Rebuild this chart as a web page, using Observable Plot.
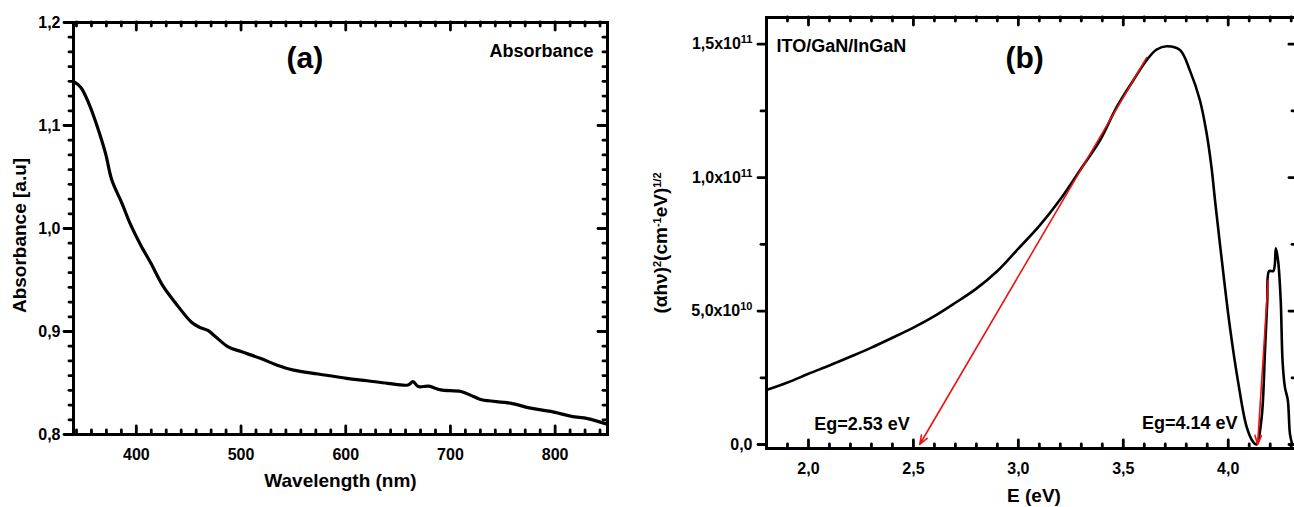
<!DOCTYPE html>
<html><head><meta charset="utf-8">
<script src="https://cdn.jsdelivr.net/npm/d3@7"></script>
<script src="https://cdn.jsdelivr.net/npm/@observablehq/plot@0.6"></script>
<style>
html,body{margin:0;padding:0;background:#fff;overflow:hidden;}
#wrap{position:relative;width:1294px;height:507px;overflow:hidden;background:#fff;}
#a{position:absolute;left:0;top:0;width:640px;height:507px;}
#b{position:absolute;left:640px;top:0;width:660px;height:507px;}
</style></head><body>
<div id="wrap"><div id="a"></div><div id="b"></div></div>
<script>
// ---- Panel (a): absorbance spectrum ----
const wavelength = [339.5,347,355,363,370.7,376.6,386.3,394,404,413.7,425.4,437,452.7,460.5,468.3,476,487.8,500,519,534.6,550.2,573.7,601,620.5,640,659.5,664.2,669.3,679,690.7,710,722,729.8,757,776.6,796,815.6,831,848.8];
const absorbance = [1.143,1.137,1.1205,1.098,1.0724,1.047,1.0244,1.005,0.9843,0.9667,0.9442,0.9282,0.909,0.904,0.901,0.8946,0.885,0.8805,0.8737,0.8673,0.8625,0.8587,0.8545,0.8522,0.8497,0.8481,0.8513,0.8465,0.847,0.8433,0.8417,0.8369,0.8337,0.8305,0.8256,0.8224,0.8176,0.8154,0.8103];
const xTicksA = [400,500,600,700,800];
const yTicksA = [0.8,0.9,1.0,1.1,1.2];

// ---- Panel (b): Tauc plot ----
const energy = [1.80,1.90,2.00,2.10,2.20,2.30,2.40,2.50,2.60,2.70,2.80,2.90,3.00,3.10,3.20,3.30,3.389,3.469,3.548,3.611,3.659,3.707,3.77,3.818,3.865,3.897,3.92,3.937,3.968,4.008,4.048,4.088,4.119,4.135,4.159,4.175,4.186,4.195,4.215,4.227,4.238,4.25,4.259,4.27,4.284,4.294,4.305];
const tauc = [2.04e10,2.32e10,2.65e10,2.96e10,3.29e10,3.63e10,4.0e10,4.38e10,4.81e10,5.31e10,5.84e10,6.5e10,7.34e10,8.19e10,9.19e10,1.035e11,1.14e11,1.265e11,1.365e11,1.44e11,1.48e11,1.4925e11,1.478e11,1.40e11,1.29e11,1.166e11,1.04e11,9.15e10,7.0e10,4.4e10,2.3e10,6.5e9,9e8,0,1.0e10,3.5e10,5.4e10,6.5e10,6.5e10,7.35e10,6.85e10,5.4e10,3.1e10,2.15e10,1.65e10,4e9,0];
const fitFromE = [3.611,4.19];
const fitFromV = [1.45e11,6.15e10];
const fitToE = [2.53,4.14];
const fitToV = [0,0];
const gapLabels = ["Eg=2.53 eV","Eg=4.14 eV"];
const gapLabelE = [2.255,3.817];
const gapLabelV = [7.5e9,7.9e9];
const xTicksB = [2.0,2.5,3.0,3.5,4.0];
const yTicksB = [0,5e10,1e11,1.5e11];
const yTickMantissaB = ["0,0","5,0x10","1,0x10","1,5x10"];
const yTickExponentB = ["","10","11","11"];

const FONT = '"Liberation Sans", Arial, Helvetica, sans-serif';
const comma = d => d3.format(".1f")(d).replace(".", ",");

// frame tick marks; lengths given in pixels, converted through the scale spans
function tickMarks(xs, ys, xd, yd, o) {
  const [xMaj, xMin] = xs, [yMaj, yMin] = ys;
  const ky = (yd[1] - yd[0]) / o.plotH, kx = (xd[1] - xd[0]) / o.plotW;
  const st = {stroke: "black", strokeWidth: 2.8, strokeLinecap: "round"};
  const bx = (vals, L) => Plot.ruleX(vals, {x: d => d, y1: yd[0], y2: yd[0] + L * ky, ...st});
  const tx = (vals, L) => Plot.ruleX(vals, {x: d => d, y1: yd[1], y2: yd[1] - L * ky, ...st});
  const ly = (vals, L) => Plot.ruleY(vals, {y: d => d, x1: xd[0] - L * kx, x2: xd[0], ...st});
  const ry = (vals, L) => Plot.ruleY(vals, {y: d => d, x1: xd[1] - L * kx, x2: xd[1], ...st});
  return [
    bx(xMaj, o.xLen), bx(xMin, o.xMinorLen), tx(xMaj, o.xLen), tx(xMin, o.xMinorLen),
    ly(yMaj, o.yLen), ly(yMin, o.yMinorLen), ry(yMaj, o.yLen), ry(yMin, o.yMinorLen)
  ];
}

// minor tick positions (panel a: 7 subdivisions per major; panel b: 0.1 eV / 2.5e10)
const xMinorA = d3.range(-4, 32).filter(k => k % 7 !== 0).map(k => 400 + k * 100 / 7).filter(v => v > 341 && v < 849);
const yMinorA = d3.range(1, 28).filter(k => k % 7 !== 0).map(k => 0.8 + k * 0.1 / 7);
const xMinorB = d3.range(19, 44).filter(k => k % 5 !== 0).map(k => k / 10);
const yMinorB = [2.5e10, 7.5e10, 1.25e11];

// ---------- Panel a ----------
const wA = 640, hA = 507, mlA = 73, mrA = 33, mtA = 22, mbA = 73;
const xdA = [340, 850], ydA = [0.8, 1.2];
const plotA = Plot.plot({
  width: wA, height: hA,
  marginLeft: mlA, marginRight: mrA, marginTop: mtA, marginBottom: mbA,
  style: {fontFamily: FONT, fontWeight: "bold", fontSize: "16px", background: "white", maxWidth: "none", color: "black"},
  x: {domain: xdA, axis: null, label: null},
  y: {domain: ydA, axis: null, label: null},
  marks: [
    Plot.line(wavelength.map((w, i) => ({w, a: absorbance[i]})), {x: "w", y: "a", stroke: "black", strokeWidth: 3.2, curve: "catmull-rom"}),
    ...tickMarks([xTicksA, xMinorA], [yTicksA, yMinorA], xdA, ydA, {plotW: wA - mlA - mrA, plotH: hA - mtA - mbA, xLen: 8, xMinorLen: 4, yLen: 9, yMinorLen: 4}),
    Plot.frame({stroke: "black", strokeWidth: 3}),
    Plot.axisX(xTicksA, {tickSize: 0, tickPadding: 14, tickFormat: d => String(d), fontSize: 16, fontWeight: "bold", label: null}),
    Plot.axisY(yTicksA, {tickSize: 0, tickPadding: 13, tickFormat: comma, fontSize: 16, fontWeight: "bold", label: null}),
    Plot.text(["Wavelength (nm)"], {frameAnchor: "bottom", dy: 52, fontSize: 19, fontWeight: "bold"}),
    Plot.text(["Absorbance [a.u]"], {frameAnchor: "left", textAnchor: "middle", dx: -54, dy: 7, rotate: -90, fontSize: 19, fontWeight: "bold"}),
    Plot.text(["Absorbance"], {frameAnchor: "top-right", dx: -14, dy: 22, textAnchor: "end", fontSize: 18, fontWeight: "bold"}),
    Plot.text(["(a)"], {x: [561], y: [1.165], fontSize: 30, fontWeight: "bold"})
  ]
});
document.getElementById("a").appendChild(plotA);

// ---------- Panel b ----------
const wB = 660, hB = 507, mlB = 126, mrB = 3, mtB = 17, mbB = 59;
const xdB = [1.8, 4.33], ydB = [-1.5e9, 1.6e11];
const plotB = Plot.plot({
  width: wB, height: hB,
  marginLeft: mlB, marginRight: mrB, marginTop: mtB, marginBottom: mbB,
  style: {fontFamily: FONT, fontWeight: "bold", fontSize: "16px", background: "white", maxWidth: "none", color: "black"},
  x: {domain: xdB, axis: null, label: null},
  y: {domain: ydB, axis: null, label: null},
  marks: [
    Plot.line(energy.map((e, i) => ({e, v: tauc[i]})), {x: "e", y: "v", stroke: "black", strokeWidth: 2.6, curve: "catmull-rom", clip: true}),
    Plot.arrow(fitFromE.map((e, i) => ({x1: e, y1: fitFromV[i], x2: fitToE[i], y2: fitToV[i]})), {x1: "x1", y1: "y1", x2: "x2", y2: "y2", stroke: "#ee1111", strokeWidth: 1.6, headLength: 9, headAngle: 40, bend: 0}),
    ...tickMarks([xTicksB, xMinorB], [yTicksB, yMinorB], xdB, ydB, {plotW: wB - mlB - mrB, plotH: hB - mtB - mbB, xLen: 8, xMinorLen: 4, yLen: 8, yMinorLen: 5}),
    Plot.frame({stroke: "black", strokeWidth: 3}),
    Plot.axisX(xTicksB, {tickSize: 0, tickPadding: 14, tickFormat: comma, fontSize: 16, fontWeight: "bold", label: null}),
    Plot.axisY(yTicksB, {tickSize: 0, tickPadding: 14, tickFormat: (d, i) => yTickMantissaB[i] + (yTickExponentB[i] ? "^" + yTickExponentB[i] : ""), fontSize: 16, fontWeight: "bold", label: null}),
    Plot.text(gapLabels, {x: gapLabelE, y: gapLabelV, fontSize: 18, fontWeight: "bold"}),
    Plot.text(["E (eV)"], {frameAnchor: "bottom", dx: 2, dy: 53, fontSize: 19, fontWeight: "bold"}),
    Plot.text(["(αhν)^2(cm^-1eV)^1/2"], {frameAnchor: "left", textAnchor: "middle", dx: -106, dy: 10, rotate: -90, fontSize: 19, fontWeight: "bold"}),
    Plot.text(["ITO/GaN/InGaN"], {frameAnchor: "top-left", dx: 10, dy: 22, textAnchor: "start", fontSize: 18, fontWeight: "bold"}),
    Plot.text(["(b)"], {x: [3.03], y: [1.445e11], fontSize: 30, fontWeight: "bold"})
  ]
});
document.getElementById("b").appendChild(plotB);

// turn "^" markers into real superscript tspans
d3.select(plotB).selectAll("text").each(function () {
  const el = d3.select(this);
  const s = this.textContent;
  if (!s.includes("^") || this.querySelector("tspan")) return;
  const tokens = s.split(/(\^(?:-1|1\/2|\d+))/).filter(x => x);
  el.text(null);
  for (const tok of tokens) {
    if (tok.startsWith("^")) el.append("tspan").attr("baseline-shift", "super").attr("font-size", 11).text(tok.slice(1));
    else el.append("tspan").text(tok);
  }
});
</script>
</body></html>
